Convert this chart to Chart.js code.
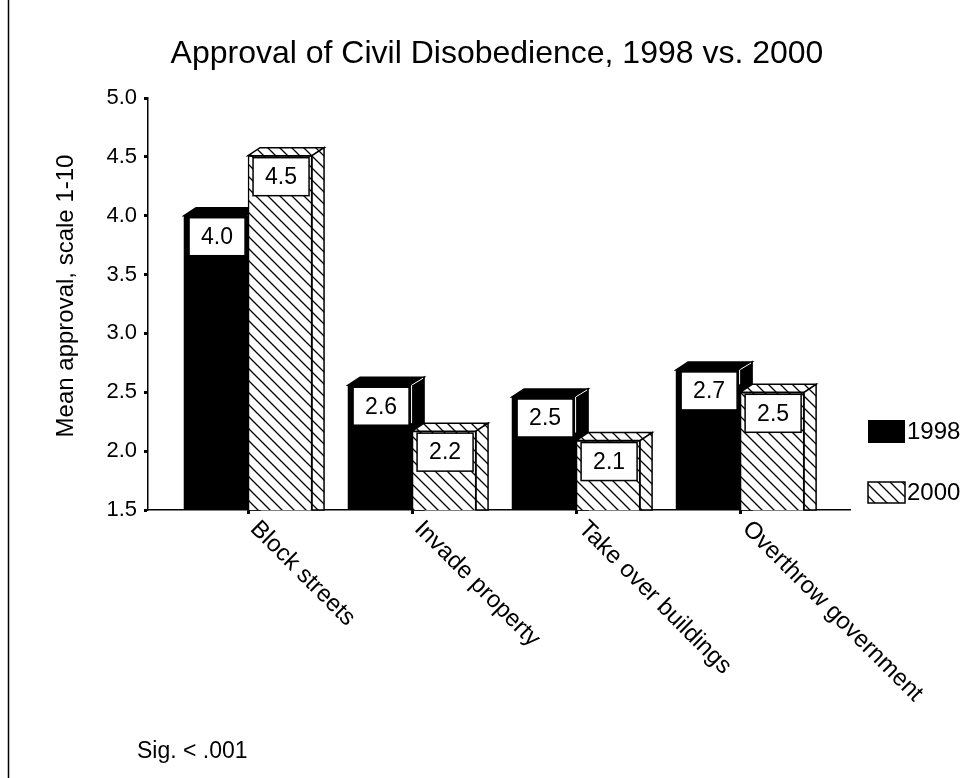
<!DOCTYPE html>
<html lang="en">
<head>
    <meta charset="UTF-8">
    <title>Approval of Civil Disobedience</title>
    <script src="https://cdn.jsdelivr.net/npm/chart.js"></script>
    <style>
        body { margin: 0; background: #fff; }
    </style>
</head>
<body>
    <canvas id="myChart" width="972" height="778"></canvas>
    <script>
        // data
        const categories = ['Block streets', 'Invade property', 'Take over buildings', 'Overthrow government'];
        const approval1998 = [4.0, 2.56, 2.46, 2.69];
        const approval2000 = [4.51, 2.17, 2.09, 2.5];
        const seriesNames = ['1998', '2000'];
        const yMin = 1.5, yMax = 5.0, yStep = 0.5;

        const FONT = "'Liberation Sans', Arial, sans-serif";
        const DX = 12, DY = 8; // depth of the 3d bars

        // diagonal hatch "\\\"
        function makeHatch() {
            let c = document.createElement('canvas');
            c.width = 12; c.height = 12;
            let g = c.getContext('2d');
            g.fillStyle = '#fff';
            g.fillRect(0, 0, 12, 12);
            g.strokeStyle = '#000';
            g.lineWidth = 1.3;
            g.beginPath();
            g.moveTo(-1, -1); g.lineTo(13, 13);
            g.moveTo(-1, 11); g.lineTo(1, 13);
            g.moveTo(11, -1); g.lineTo(13, 1);
            g.stroke();
            return g.createPattern(c, 'repeat');
        }
        const hatch = makeHatch();

        function barBox(chart, bar) {
            let p = bar.getProps(['x', 'y', 'width'], true);
            let bottom = chart.scales.y.getPixelForValue(yMin);
            return { left: p.x - p.width / 2, right: p.x + p.width / 2, top: p.y, base: bottom, x: p.x };
        }

        function drawFaces(ctx, b, fill, edge) {
            ctx.fillStyle = fill;
            ctx.strokeStyle = edge;
            ctx.lineWidth = 1.5;
            // top
            ctx.beginPath();
            ctx.moveTo(b.left, b.top);
            ctx.lineTo(b.left + DX, b.top - DY);
            ctx.lineTo(b.right + DX, b.top - DY);
            ctx.lineTo(b.right, b.top);
            ctx.closePath();
            ctx.fill(); ctx.stroke();
            // side
            ctx.beginPath();
            ctx.moveTo(b.right, b.top);
            ctx.lineTo(b.right + DX, b.top - DY);
            ctx.lineTo(b.right + DX, b.base);
            ctx.lineTo(b.right, b.base);
            ctx.closePath();
            ctx.fill(); ctx.stroke();
        }

        function drawValueBox(ctx, b, v) {
            let w = 56, h = 38;
            let bx = b.x - w / 2 + 1, by = b.top + 2;
            ctx.fillStyle = '#fff';
            ctx.strokeStyle = '#000';
            ctx.lineWidth = 1.5;
            ctx.fillRect(bx, by, w, h);
            ctx.strokeRect(bx, by, w, h);
            ctx.fillStyle = '#000';
            ctx.font = '23px ' + FONT;
            ctx.textAlign = 'center';
            ctx.textBaseline = 'middle';
            ctx.fillText(v.toFixed(1), bx + w / 2, by + h / 2 + 1);
        }

        const bars3d = {
            id: 'bars3d',
            beforeDraw(chart) {
                let ctx = chart.ctx;
                ctx.save();
                ctx.fillStyle = '#fff';
                ctx.fillRect(0, 0, chart.width, chart.height);
                // frame line on the left
                ctx.strokeStyle = '#000';
                ctx.lineWidth = 1.5;
                ctx.beginPath();
                ctx.moveTo(8.5, 0);
                ctx.lineTo(8.5, chart.height);
                ctx.stroke();
                // title
                ctx.fillStyle = '#000';
                ctx.font = '32px ' + FONT;
                ctx.textAlign = 'center';
                ctx.textBaseline = 'middle';
                ctx.fillText('Approval of Civil Disobedience, 1998 vs. 2000', 497, 54);
                // y axis title
                ctx.save();
                ctx.translate(66, 296);
                ctx.rotate(-Math.PI / 2);
                ctx.font = '24px ' + FONT;
                ctx.fillText('Mean approval, scale 1-10', 0, 0);
                ctx.restore();
                ctx.restore();
            },
            beforeDatasetsDraw(chart) {
                // black bars: top and side faces go behind the hatched bars
                let ctx = chart.ctx;
                ctx.save();
                chart.getDatasetMeta(0).data.forEach(bar => {
                    let b = barBox(chart, bar);
                    drawFaces(ctx, b, '#000', '#000');
                    ctx.strokeStyle = '#fff';
                    ctx.lineWidth = 1;
                    ctx.beginPath();
                    ctx.moveTo(b.right - 0.5, b.top);
                    ctx.lineTo(b.right + DX - 1, b.top - DY + 1);
                    ctx.stroke();
                });
                ctx.restore();
            },
            afterDatasetsDraw(chart) {
                let ctx = chart.ctx;
                ctx.save();
                let blk = chart.getDatasetMeta(0).data;
                let hat = chart.getDatasetMeta(1).data;
                blk.forEach((bar, i) => {
                    let b = barBox(chart, bar);
                    let h = barBox(chart, hat[i]);
                    if (h.top > b.top) {
                        ctx.strokeStyle = '#fff';
                        ctx.lineWidth = 1;
                        ctx.beginPath();
                        ctx.moveTo(b.right - 0.5, b.top);
                        ctx.lineTo(b.right - 0.5, h.top - DY);
                        ctx.stroke();
                    }
                });
                hat.forEach(bar => drawFaces(ctx, barBox(chart, bar), hatch, '#000'));
                blk.forEach((bar, i) => drawValueBox(ctx, barBox(chart, bar), approval1998[i]));
                hat.forEach((bar, i) => drawValueBox(ctx, barBox(chart, bar), approval2000[i]));
                ctx.restore();
            },
            afterDraw(chart) {
                let ctx = chart.ctx;
                let xs = chart.scales.x;
                ctx.save();
                ctx.fillStyle = '#000';
                // rotated category labels
                ctx.font = '24px ' + FONT;
                ctx.textAlign = 'left';
                ctx.textBaseline = 'middle';
                xs.ticks.forEach(t => {
                    let px = xs.getPixelForValue(t.value);
                    ctx.save();
                    ctx.translate(px + 6, 525);
                    ctx.rotate(Math.PI / 4);
                    ctx.fillText(categories[t.value - 1], 0, 0);
                    ctx.restore();
                });
                // legend
                ctx.font = '24px ' + FONT;
                ctx.fillStyle = '#000';
                ctx.fillRect(868, 420, 37, 23);
                ctx.fillText(seriesNames[0], 907, 432);
                ctx.fillStyle = hatch;
                ctx.fillRect(868, 482, 37, 21);
                ctx.strokeStyle = '#000';
                ctx.lineWidth = 1.5;
                ctx.strokeRect(868, 482, 37, 21);
                ctx.fillStyle = '#000';
                ctx.fillText(seriesNames[1], 907, 493);
                // note
                ctx.font = '23px ' + FONT;
                ctx.fillText('Sig. < .001', 137, 752);
                ctx.restore();
            }
        };

        Chart.defaults.font.family = FONT;
        Chart.defaults.color = '#000';

        let ctx = document.getElementById('myChart');
        let configs = {
            type: 'bar',
            data: {
                datasets: [
                    {
                        label: seriesNames[0],
                        data: approval1998.map((v, i) => ({ x: i + 1, y: v })),
                        backgroundColor: '#000',
                        borderWidth: 0
                    },
                    {
                        label: seriesNames[1],
                        data: approval2000.map((v, i) => ({ x: i + 1, y: v })),
                        backgroundColor: hatch,
                        borderColor: '#000',
                        borderWidth: 1.5
                    }
                ]
            },
            options: {
                responsive: false,
                animation: false,
                barThickness: 64,
                layout: { padding: { left: 0, right: 122, top: 98, bottom: 0 } },
                plugins: {
                    legend: { display: false },
                    tooltip: { enabled: false },
                    title: { display: false }
                },
                scales: {
                    x: {
                        type: 'linear',
                        min: 0.39,
                        max: 4.67,
                        offset: false,
                        ticks: { display: false, stepSize: 1, includeBounds: false },
                        grid: { display: true, offset: false, drawOnChartArea: false, drawTicks: true, tickLength: 4, tickColor: '#000', tickWidth: 3 },
                        border: { display: true, color: '#000', width: 1.5 },
                        afterFit: s => { s.height = 268; }
                    },
                    y: {
                        min: yMin,
                        max: yMax,
                        ticks: {
                            stepSize: yStep,
                            font: { size: 22 },
                            color: '#000',
                            padding: 7,
                            callback: v => Number(v).toFixed(1)
                        },
                        grid: { display: true, drawOnChartArea: false, drawTicks: true, tickLength: 4, tickColor: '#000', tickWidth: 3 },
                        border: { display: true, color: '#000', width: 1.5 },
                        afterFit: s => { s.width = 148; }
                    }
                }
            },
            plugins: [bars3d]
        };
        let myChart = new Chart(ctx, configs);
    </script>
</body>
</html>
